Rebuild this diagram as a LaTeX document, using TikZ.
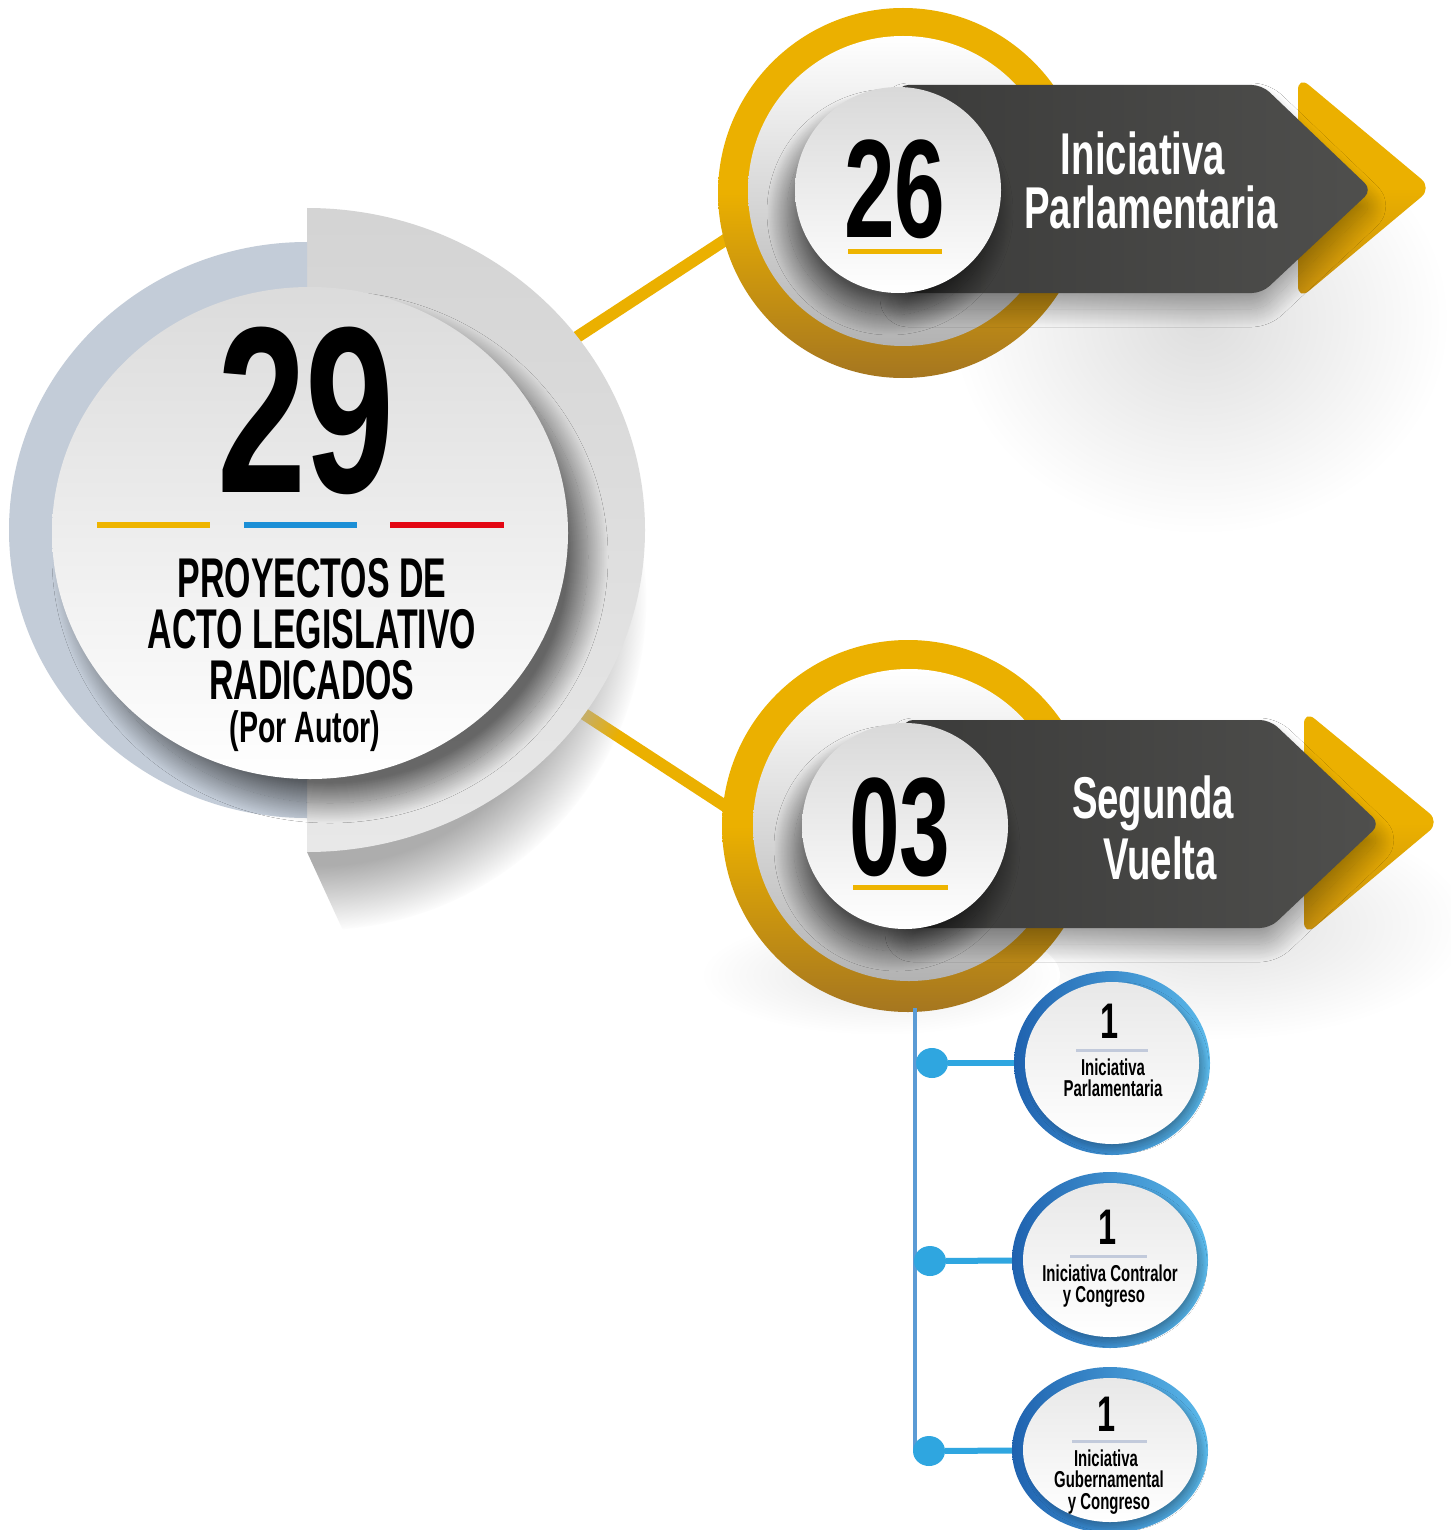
\documentclass[tikz,border=0pt]{standalone}
\usepackage{fontspec}
\setmainfont{Liberation Sans}
\newfontfamily\fA{Liberation Sans}[FakeStretch=0.605]
\newfontfamily\fB{Liberation Sans}[FakeStretch=0.65]
\newfontfamily\fC{Liberation Sans}[FakeStretch=0.675]
\usetikzlibrary{shapes.geometric,fadings,shadows.blur}
\definecolor{gold}{HTML}{EBB000}
\definecolor{goldD}{HTML}{A57620}
\definecolor{goldC}{HTML}{C48D0E}
\definecolor{dark}{HTML}{4F4F4D}
\definecolor{darkL}{HTML}{3B3B3A}
\definecolor{slate}{HTML}{C3CCD8}
\definecolor{yel}{HTML}{EEB400}
\definecolor{flagblue}{HTML}{1C8FD6}
\definecolor{flagred}{HTML}{E30613}
\definecolor{bluD}{HTML}{1F62AF}
\definecolor{bluL}{HTML}{5BB9EA}
\definecolor{bluline}{HTML}{5B9BD5}
\definecolor{bludot}{HTML}{2FA6E0}
\definecolor{rulec}{HTML}{C2CADB}
\begin{document}
\begin{tikzpicture}[x=1pt,y=-1pt, shadow blur steps=40,
  goldline/.style={line width=12pt, draw=gold},
  ringstyle/.style={circle, inner sep=0pt, top color=gold, bottom color=goldD, middle color=gold},
  diskstyle/.style={circle, inner sep=0pt, top color=white, bottom color=black!30},
  numcirc/.style={circle, inner sep=0pt, top color=black!15, bottom color=white,
     blur shadow={shadow xshift=-8pt, shadow yshift=-22pt, shadow blur radius=20pt, shadow opacity=60}},
  bandstyle/.style={left color=darkL, right color=dark, rounded corners=10pt,
     blur shadow={shadow xshift=0pt, shadow yshift=-16pt, shadow blur radius=18pt, shadow opacity=35}},
  chevstyle/.style={top color=gold, bottom color=goldC, middle color=gold, rounded corners=14pt},
  bignum/.style={font=\fB\bfseries\fontsize{140pt}{140pt}\selectfont, anchor=base, inner sep=0pt},
  bandtext/.style={font=\fB\bfseries\fontsize{59pt}{59pt}\selectfont, anchor=base, text=white, inner sep=0pt},
  maintext/.style={font=\fA\bfseries\fontsize{56pt}{56pt}\selectfont, anchor=base, inner sep=0pt},
  ringblue/.style={ellipse, inner sep=0pt, left color=bluD, right color=bluL},
  innerwhite/.style={ellipse, inner sep=0pt, top color=black!9, bottom color=white,
     blur shadow={shadow xshift=5pt, shadow yshift=-5pt, shadow blur radius=5pt, shadow opacity=25}},
  dotstyle/.style={ellipse, inner sep=0pt, fill=bludot, minimum width=32pt, minimum height=30pt},
  hline/.style={line width=6pt, draw=bludot},
  onetext/.style={font=\fB\bfseries\fontsize{50pt}{50pt}\selectfont, anchor=base, inner sep=0pt},
  smalltext/.style={font=\fB\bfseries\fontsize{23pt}{23pt}\selectfont, anchor=base, inner sep=0pt},
  rulestyle/.style={line width=3pt, draw=rulec}]

\fill[white] (0,0) rectangle (1450,1530);
\useasboundingbox (0,0) rectangle (1450,1530);

% faint soft shadows
\shade[inner color=black!13, outer color=white] (1200,320) ellipse [x radius=250pt, y radius=215pt];
\shade[inner color=black!12, outer color=white] (1220,925) ellipse [x radius=250pt, y radius=115pt];
\shade[inner color=black!10, outer color=white] (880,975) ellipse [x radius=180pt, y radius=60pt];

% yellow connectors
\coordinate (ya1) at (545,358);
\coordinate (yb1) at (745,227);
\coordinate (ya2) at (555,695);
\coordinate (yb2) at (745,819);
\draw[goldline] (ya1) -- (yb1);
\draw[goldline] (ya2) -- (yb2);

% main circle: wedge shadow below the grey half
\begin{scope}
  \clip (307,530) -- (307,852) -- (352,950) -- (800,950) -- (800,530) -- cycle;
  \fill[black!32, path fading=circle with fuzzy edge 20 percent] (318,600) ellipse [x radius=328pt, y radius=330pt];
\end{scope}
\shade[top color=black!17, bottom color=black!9]
  (307,208) arc[start angle=90, end angle=-90, x radius=338pt, y radius=322pt] -- cycle;
\fill[slate] (307,242) arc[start angle=90, end angle=270, x radius=298pt, y radius=288pt] -- cycle;
\node[ellipse, inner sep=0pt, minimum width=516pt, minimum height=492pt,
  top color=black!14, bottom color=white,
  blur shadow={shadow xshift=20pt, shadow yshift=-24pt, shadow blur radius=20pt, shadow opacity=55}]
  (mainc) at (310,533) {};
\node[font=\fC\bfseries\fontsize{237pt}{237pt}\selectfont, anchor=base, inner sep=0pt] (n29) at (306,492) {29};
\draw[line width=6pt, yel] (97,525) -- (210,525);
\draw[line width=6pt, flagblue] (244,525) -- (357,525);
\draw[line width=6pt, flagred] (390,525) -- (504,525);
\node[maintext] (t1) at (312,597) {PROYECTOS DE};
\node[maintext] (t2) at (312,648) {ACTO LEGISLATIVO};
\node[maintext] (t3) at (312,699) {RADICADOS};
\node[font=\fB\bfseries\fontsize{44pt}{44pt}\selectfont, anchor=base, inner sep=0pt] (t4) at (305,742) {(Por Autor)};

% top group
\node[ringstyle, minimum size=370pt] (ring1) at (903,193) {};
\node[diskstyle, minimum size=310pt] (disk1) at (903,191) {};
\shade[chevstyle] (1298,76) -- (1432,188) -- (1298,300) -- cycle;
\shade[bandstyle] (898,85) -- (1262,85) -- (1372,190) -- (1262,293) -- (898,293) -- cycle;
\node[numcirc, minimum size=206pt] (num1) at (898,190) {};
\node[bignum] (l26) at (895,238) {26};
\draw[line width=5pt, yel] (848,252) -- (942,252);
\node[bandtext] (b1a) at (1143,175) {Iniciativa};
\node[bandtext] (b1b) at (1151,229) {Parlamentaria};

% bottom group
\node[ringstyle, minimum size=372pt] (ring2) at (908,826) {};
\node[diskstyle, minimum size=312pt] (disk2) at (909,825) {};
\shade[chevstyle] (1304,710) -- (1440,822) -- (1304,936) -- cycle;
\shade[bandstyle] (903,720) -- (1270,720) -- (1380,824) -- (1270,928) -- (903,928) -- cycle;
\node[numcirc, minimum size=206pt] (num2) at (905,826) {};
\node[bignum] (l03) at (900,875) {03};
\draw[line width=5pt, yel] (853,887) -- (948,887);
\node[bandtext] (b2a) at (1153,818) {Segunda};
\node[bandtext] (b2b) at (1160,879) {Vuelta};

% blue tree
\coordinate (vtop) at (915,1008);
\coordinate (vbot) at (915,1452);
\draw[line width=4pt, bluline] (vtop) -- (vbot);
\node[dotstyle] (d1) at (932,1063) {};
\node[dotstyle] (d2) at (930,1261) {};
\node[dotstyle] (d3) at (929,1451) {};

\node[ringblue, minimum width=196pt, minimum height=184pt] (c1) at (1112,1063) {};
\node[innerwhite, minimum width=174pt, minimum height=162pt] (w1) at (1112,1063) {};
\node[ringblue, minimum width=196pt, minimum height=176pt] (c2) at (1110,1260) {};
\node[innerwhite, minimum width=174pt, minimum height=154pt] (w2) at (1110,1260) {};
\node[ringblue, minimum width=196pt, minimum height=166pt] (c3) at (1110,1450) {};
\node[innerwhite, minimum width=174pt, minimum height=144pt] (w3) at (1110,1450) {};

\draw[hline] (d1) -- (c1);
\draw[hline] (d2) -- (c2);
\draw[hline] (d3) -- (c3);

\node[onetext] (o1) at (1110,1038) {1};
\draw[rulestyle] (1076,1050) -- (1148,1050);
\node[smalltext] (s1a) at (1113,1075) {Iniciativa};
\node[smalltext] (s1b) at (1113,1096) {Parlamentaria};

\node[onetext] (o2) at (1108,1244) {1};
\draw[rulestyle] (1070,1256) -- (1147,1256);
\node[smalltext] (s2a) at (1110,1281) {Iniciativa Contralor};
\node[smalltext] (s2b) at (1104,1302) {y Congreso};

\node[onetext] (o3) at (1107,1431) {1};
\draw[rulestyle] (1072,1441) -- (1147,1441);
\node[smalltext] (s3a) at (1106,1466) {Iniciativa};
\node[smalltext] (s3b) at (1109,1487) {Gubernamental};
\node[smalltext] (s3c) at (1109,1509) {y Congreso};
\end{tikzpicture}
\end{document}
